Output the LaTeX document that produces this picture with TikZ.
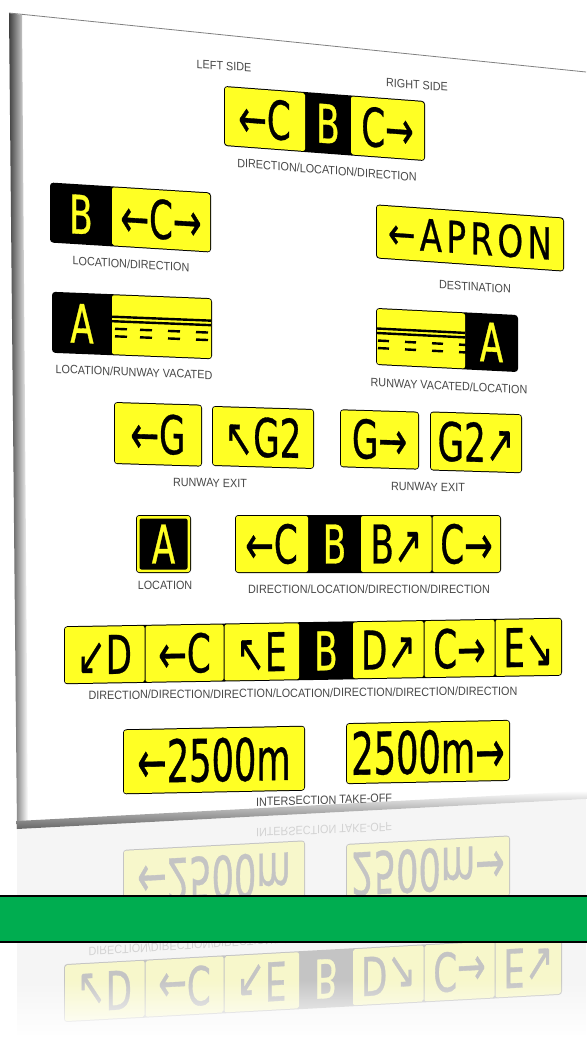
\documentclass[tikz,border=0pt]{standalone}
\usepackage{fontspec}
\usetikzlibrary{fadings}
\newfontfamily\signfont[FakeStretch=0.64,FakeBold=0.6]{DejaVu Sans}
\newfontfamily\numfont[FakeStretch=0.6,FakeBold=0.6]{DejaVu Sans}
\newfontfamily\apronfont[FakeStretch=0.74,LetterSpace=10,FakeBold=0.6]{DejaVu Sans}
\newfontfamily\capfont[FakeStretch=0.9]{Liberation Sans}
\definecolor{signyellow}{RGB}{255,255,36}
\definecolor{bargreen}{RGB}{0,173,80}
\definecolor{capgray}{RGB}{72,72,72}

\tikzset{
  signbase/.style={fill=black, rounded corners=2.5pt},
  ypanel/.style={fill=signyellow, rounded corners=1.5pt},
  signtxt/.style={font=\signfont\fontsize{40}{40}\selectfont, inner sep=0pt, transform shape},
  loctxt/.style={signtxt, text=signyellow},
  caption/.style={font=\capfont\fontsize{9}{9}\selectfont, text=capgray, inner sep=0pt, transform shape},
  stripe/.style={line width=1.8pt},
}

% signs and captions of the upper part of the board
\newcommand{\upperboard}{%
  \node[caption, yslant=-0.07] (leftside) at (224,66) {LEFT SIDE};
  \node[caption, yslant=-0.07] (rightside) at (417,85) {RIGHT SIDE};
  % direction/location/direction
  \begin{scope}[shift={(324.5,123.5)}, yslant=-0.075]
    \fill[signbase] (-100.5,-30) rectangle (100.5,30);
    \fill[ypanel] (-99.5,-29) rectangle (-19.5,29);
    \fill[ypanel] (26.5,-29) rectangle (99.5,29);
    \node[signtxt] (dldl) at (-60,0) {←C};
    \node[loctxt] (dldm) at (3.5,0) {B};
    \node[signtxt] (dldr) at (63,0) {C→};
  \end{scope}
  \node[caption, yslant=-0.08] (dldcap) at (327,170) {DIRECTION/LOCATION/DIRECTION};
  % location/direction
  \begin{scope}[shift={(130.5,217.5)}, yslant=-0.062]
    \fill[signbase] (-80.5,-30) rectangle (80.5,30);
    \fill[ypanel] (-18.5,-29) rectangle (79.5,29);
    \node[loctxt] (ldl) at (-49.5,0) {B};
    \node[signtxt] (ldr) at (30.5,0) {←C→};
  \end{scope}
  \node[caption, yslant=-0.06] (ldcap) at (131,264) {LOCATION/DIRECTION};
  % destination
  \begin{scope}[shift={(470,238)}, yslant=-0.07]
    \fill[signbase] (-94,-27) rectangle (94,27);
    \fill[ypanel] (-93,-26) rectangle (93,26);
    \node[signtxt, font=\apronfont\fontsize{33}{33}\selectfont] (apron) at (0,0) {←APRON};
  \end{scope}
  \node[caption, yslant=-0.06] (destcap) at (475,287) {DESTINATION};
  % location/runway vacated
  \begin{scope}[shift={(132,325.5)}, yslant=-0.04]
    \fill[signbase] (-80,-30.5) rectangle (80,30.5);
    \fill[ypanel] (-20,-29.5) rectangle (79,29.5);
    \node[loctxt] (lrvl) at (-50,0) {A};
    \draw[stripe] (-20,-8) -- (79,-8) (-20,-3.5) -- (79,-3.5);
    \foreach \d in {-17,8,36,64}
      \draw[stripe] (\d,4) -- ++(12,0) (\d,11.5) -- ++(12,0);
  \end{scope}
  \node[caption, yslant=-0.04] (lrvcap) at (134,372) {LOCATION/RUNWAY VACATED};
  % runway vacated/location
  \begin{scope}[shift={(447,340)}, yslant=-0.05]
    \fill[signbase] (-71,-28.5) rectangle (71,28.5);
    \fill[ypanel] (-70,-27.5) rectangle (18,27.5);
    \node[loctxt] (rvlr) at (44.5,0) {A};
    \draw[stripe] (-70,-8) -- (18,-8) (-70,-3.5) -- (18,-3.5);
    \foreach \d in {-69,-42,-15,12}
      \draw[stripe] (\d,4) -- ++(11,0) (\d,11.5) -- ++(11,0);
  \end{scope}
  \node[caption, yslant=-0.05] (rvlcap) at (449,386) {RUNWAY VACATED/LOCATION};
  % runway exit, left
  \begin{scope}[shift={(214,436)}, yslant=-0.03]
    \fill[signbase] (-100,-31) rectangle (-12,31);
    \fill[ypanel] (-99,-30) rectangle (-13,30);
    \fill[signbase] (-2,-30) rectangle (100,30);
    \fill[ypanel] (-1,-29) rectangle (99,29);
    \node[signtxt] (exll) at (-56,0) {←G};
    \node[signtxt] (exlr) at (49,0) {↖G2};
  \end{scope}
  \node[caption, yslant=-0.02] (exlcap) at (210,483) {RUNWAY EXIT};
  % runway exit, right
  \begin{scope}[shift={(431,441)}, yslant=-0.03]
    \fill[signbase] (-91,-29) rectangle (-12,29);
    \fill[ypanel] (-90,-28) rectangle (-13,28);
    \fill[signbase] (-1,-29.5) rectangle (91,29.5);
    \fill[ypanel] (0,-28.5) rectangle (90,28.5);
    \node[signtxt] (exrl) at (-51.5,0) {G→};
    \node[signtxt] (exrr) at (45,0) {G2↗};
  \end{scope}
  \node[caption, yslant=-0.02] (exrcap) at (428,487) {RUNWAY EXIT};
  % location
  \begin{scope}[shift={(163.5,544)}]
    \fill[signbase] (-27.5,-29) rectangle (27.5,29);
    \fill[ypanel] (-26.5,-28) rectangle (26.5,28);
    \fill[black, rounded corners=1.5pt] (-24,-25.5) rectangle (24,25.5);
    \node[loctxt] (loc) at (0,0) {A};
  \end{scope}
  \node[caption] (loccap) at (165,585) {LOCATION};
  % direction/location/direction/direction
  \begin{scope}[shift={(368,544)}]
    \fill[signbase] (-133,-29) rectangle (133,29);
    \fill[ypanel] (-132,-28) rectangle (-60,28);
    \fill[ypanel] (-7,-28) rectangle (63.5,28);
    \fill[ypanel] (64.5,-28) rectangle (132,28);
    \node[signtxt] (dlddl) at (-96.5,0) {←C};
    \node[loctxt] (dlddm) at (-33.5,0) {B};
    \node[signtxt] (dlddn) at (28.5,0) {B↗};
    \node[signtxt] (dlddr) at (98.5,0) {C→};
  \end{scope}
  \node[caption] (dlddcap) at (369,589) {DIRECTION/LOCATION/DIRECTION/DIRECTION};
}

% signs and captions of the lower part (these show in the reflection)
\newcommand{\lowerboard}{%
  % long array
  \begin{scope}[shift={(313,651)}, yslant=0.017]
    \fill[signbase] (-249,-29) rectangle (249,29);
    \fill[ypanel] (-248,-28) rectangle (-168.5,28);
    \fill[ypanel] (-167.5,-28) rectangle (-89.5,28);
    \fill[ypanel] (-88.5,-28) rectangle (-14,28);
    \fill[ypanel] (40,-28) rectangle (110.5,28);
    \fill[ypanel] (111.5,-28) rectangle (181.5,28);
    \fill[ypanel] (182.5,-28) rectangle (248,28);
    \node[signtxt] (arr1) at (-208.5,0) {↙D};
    \node[signtxt] (arr2) at (-128.5,0) {←C};
    \node[signtxt] (arr3) at (-51.5,0) {↖E};
    \node[loctxt] (arr4) at (13,0) {B};
    \node[signtxt] (arr5) at (75.5,0) {D↗};
    \node[signtxt] (arr6) at (146.5,0) {C→};
    \node[signtxt] (arr7) at (215.5,0) {E↘};
  \end{scope}
  \node[caption, yslant=0.01] (arrcap) at (303,693) {DIRECTION/DIRECTION/DIRECTION/LOCATION/DIRECTION/DIRECTION/DIRECTION};
  % intersection take-off
  \begin{scope}[shift={(214,760)}, yslant=0.02]
    \fill[signbase] (-91,-32.5) rectangle (91,32.5);
    \fill[ypanel] (-90,-31.5) rectangle (90,31.5);
    \node[signtxt, font=\numfont\fontsize{44}{44}\selectfont] (tol) at (0,0) {←2500m};
  \end{scope}
  \begin{scope}[shift={(428,752)}, yslant=0.02]
    \fill[signbase] (-82,-30.5) rectangle (82,30.5);
    \fill[ypanel] (-81,-29.5) rectangle (81,29.5);
    \node[signtxt, font=\numfont\fontsize{44}{44}\selectfont] (tor) at (0,0) {2500m→};
  \end{scope}
  \node[caption, yslant=0.03] (tocap) at (324,800) {INTERSECTION TAKE-OFF};
}

\begin{document}
\begin{tikzpicture}[x=0.75pt, y=-0.75pt]
\useasboundingbox (0,0) rectangle (586,1048);
% reflection under the board
\begin{scope}
  \clip (17,829) -- (586,799) -- (586,1048) -- (17,1048) -- cycle;
  \fill[black!4] (17,829) -- (586,799) -- (586,1048) -- (17,1048) -- cycle;
  \begin{scope}[cm={1,0.072,0,-1,(0pt,-1239.75pt)}, transparency group, opacity=0.2]
    \lowerboard
  \end{scope}
\end{scope}
\fill[white, path fading=north] (0,980) rectangle (586,1036);
\fill[white] (0,1035) rectangle (586,1048);
% the board
\fill[white] (9,13) -- (586,72) -- (586,799) -- (17,829) -- cycle;
\upperboard
\lowerboard
\shade[left color=black!75, right color=white] (9,13) -- (22,15) -- (28,821) -- (17,829) -- cycle;
\begin{scope}[shift={(17,829)}, rotate=3.02]
  \shade[top color=white, bottom color=black!60] (0,-8) rectangle (575,0);
\end{scope}
\draw[black!50, line width=0.6pt] (9,13) -- (586,72);
% green band
\draw[fill=bargreen, line width=1.8pt] (-3,896) rectangle (589,942);
\end{tikzpicture}
\end{document}
